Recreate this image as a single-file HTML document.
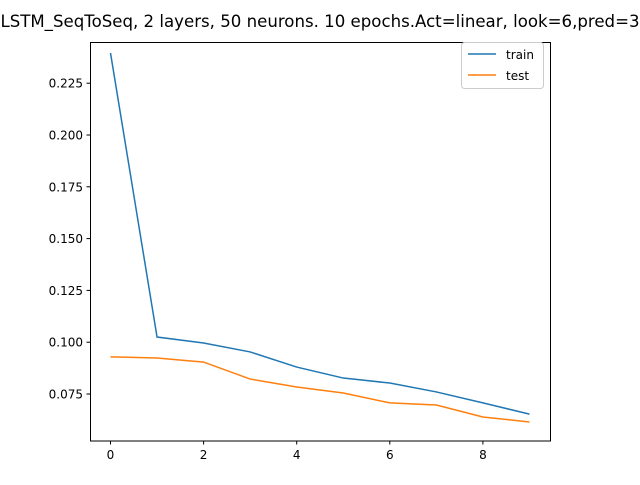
<!DOCTYPE html>
<html><head><meta charset="utf-8"><style>
body{margin:0;background:#fff;}
svg text{font-family:"DejaVu Sans","Liberation Sans",sans-serif;}
</style></head><body>
<svg id="chart" width="640" height="480" viewBox="0 0 640 480" xmlns="http://www.w3.org/2000/svg">
<rect x="0" y="0" width="640" height="480" fill="#fff"/>
<text x="320" y="27" font-size="16.6" text-anchor="middle">LSTM_SeqToSeq, 2 layers, 50 neurons. 10 epochs.Act=linear, look=6,pred=3</text>
<g id="xticks"></g><g id="yticks"></g><g id="lines"></g>
<rect x="90.5" y="42.5" width="460" height="398.5" fill="none" stroke="#000" stroke-width="1"/>
<g>
<rect x="461.5" y="42.5" width="82" height="46" rx="3" fill="#fff" stroke="#ccc"/>
<line x1="468" y1="54" x2="496" y2="54" stroke="#1f77b4" stroke-width="1.5"/>
<text x="506" y="59" font-size="12">train</text>
<line x1="468" y1="75" x2="496" y2="75" stroke="#ff7f0e" stroke-width="1.5"/>
<text x="506" y="80" font-size="12">test</text>
</g>
</svg>
<script>
const epochs=[0,1,2,3,4,5,6,7,8,9];
const trainLoss=[0.2396,0.1025,0.0996,0.0953,0.088,0.0827,0.0803,0.076,0.0707,0.0653];
const testLoss=[0.0929,0.0924,0.0904,0.0822,0.0784,0.0755,0.0707,0.0697,0.0639,0.0615];
const xTicks=[0,2,4,6,8];
const yTicks=[0.075,0.100,0.125,0.150,0.175,0.200,0.225];
const NS="http://www.w3.org/2000/svg";
function sx(v){return 110.5+v*46.55;}
function sy(v){return 394-(v-0.075)/0.025*51.8;}
function mk(t,a,p){const e=document.createElementNS(NS,t);for(const k in a)e.setAttribute(k,a[k]);p.appendChild(e);return e;}
const xg=document.getElementById('xticks'),yg=document.getElementById('yticks'),lg=document.getElementById('lines');
xTicks.forEach(v=>{
 const l=mk('line',{x1:sx(v),x2:sx(v),y1:441,y2:444.5,stroke:'#000'},xg);
 
 
 const t=mk('text',{x:sx(v),y:459,'font-size':12,'text-anchor':'middle'},xg);t.textContent=v;
 
 
});
yTicks.forEach(v=>{
 const l=mk('line',{x1:86.5,x2:90.5,y1:sy(v),y2:sy(v),stroke:'#000'},yg);
 
 
 const t=mk('text',{x:83,y:sy(v)+4.5,'font-size':12,'text-anchor':'end'},yg);t.textContent=v.toFixed(3);
 
 
});
function line(vals,color,name){
 const p=mk('polyline',{points:vals.map((v,i)=>sx(epochs[i])+','+sy(v)).join(' '),fill:'none',stroke:color,'stroke-width':1.5},lg);
 
 
}
line(trainLoss,'#1f77b4','train-line');
line(testLoss,'#ff7f0e','test-line');
</script>
</body></html>
